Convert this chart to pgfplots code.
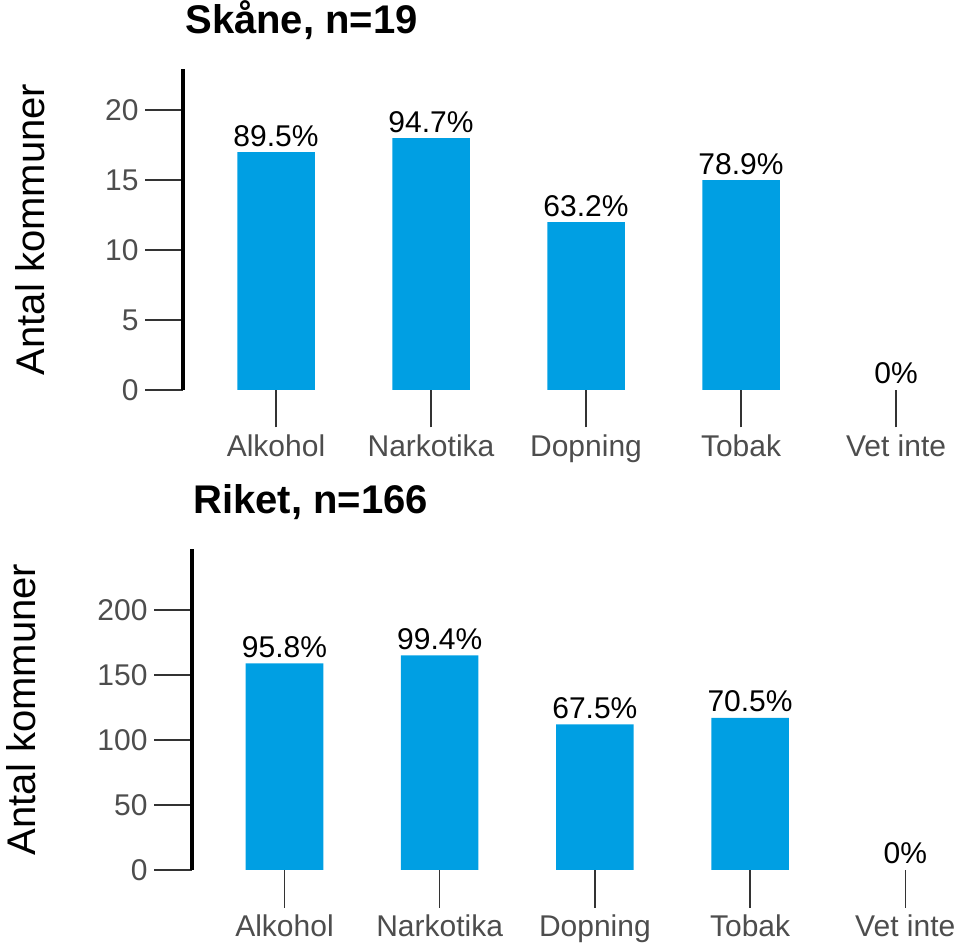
\documentclass[border=0pt]{standalone}
\usepackage{pgfplots}
\pgfplotsset{compat=1.18}
\usepackage{fontspec}
\setmainfont{Liberation Sans}
\definecolor{barblue}{HTML}{009FE3}
\definecolor{tickgray}{HTML}{4D4D4D}
\definecolor{tickline}{HTML}{333333}
\pgfplotsset{
  myaxis/.style={
    scale only axis,
    axis lines*=left,
    x axis line style={draw=none},
    y axis line style={line width=2bp, black},
    tick align=outside,
    major tick length=18.75bp,
    tick style={tickline, line width=0.7bp},
    xtick={0,1,2,3,4},
    xticklabels={Alkohol,Narkotika,Dopning,Tobak,Vet inte},
    ymin=0,
    clip=false,
    ticklabel style={font=\fontsize{15bp}{18bp}\selectfont, text=tickgray},
    /pgf/number format/assume math mode=true,
    ylabel={Antal kommuner},
    ylabel style={font=\fontsize{20bp}{24bp}\selectfont, anchor=base, inner sep=0pt},
    title style={font=\bfseries\fontsize{20bp}{24bp}\selectfont, anchor=base west, inner sep=0pt},
    ybar, bar width=0.5, bar shift=0pt,
    nodes near coords, point meta=explicit symbolic,
    every node near coord/.append style={font=\fontsize{15bp}{18bp}\selectfont, text=black, anchor=base, inner sep=0pt, yshift=3bp},
  }
}
\begin{document}
\begin{tikzpicture}
\useasboundingbox (0,0) rectangle (477bp,473bp);
\begin{axis}[myaxis,
  at={(91.5bp,278bp)}, anchor=south west,
  width=385.5bp, height=160.5bp,
  xmin=-0.6, xmax=4.374, ymax=22.93,
  ytick={0,5,10,15,20},
  ylabel style={at={(axis description cs:-0.179,0.5)}},
  title={Skåne, n=19},
  title style={at={(axis description cs:0.0026,1.0748)}},
]
\addplot[fill=barblue, draw=none] coordinates {
  (0,17) [89.5\%]
  (1,18) [94.7\%]
  (2,12) [63.2\%]
  (3,15) [78.9\%]
};
\addplot[fill=none, draw=none] coordinates {
  (4,0) [0\%]
};
\end{axis}
\begin{axis}[myaxis,
  at={(96bp,38bp)}, anchor=south west,
  width=381bp, height=160.5bp,
  xmin=-0.596, xmax=4.314, ymax=246.9,
  ytick={0,50,100,150,200},
  ylabel style={at={(axis description cs:-0.206,0.5)}},
  title={Riket, n=166},
  title style={at={(axis description cs:0.0013,1.0748)}},
]
\addplot[fill=barblue, draw=none] coordinates {
  (0,159) [95.8\%]
  (1,165) [99.4\%]
  (2,112) [67.5\%]
  (3,117) [70.5\%]
};
\addplot[fill=none, draw=none] coordinates {
  (4,0) [0\%]
};
\end{axis}
\end{tikzpicture}
\end{document}
